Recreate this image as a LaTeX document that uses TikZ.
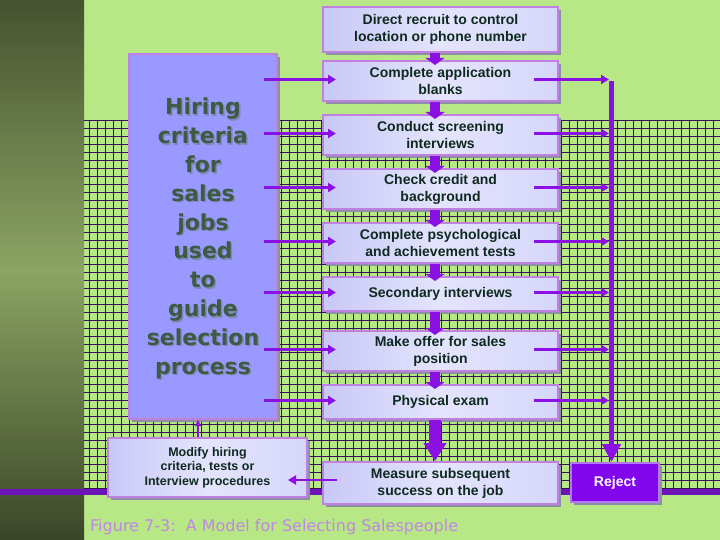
\documentclass[tikz,border=0pt]{standalone}
\usepackage{fontspec}
\setmainfont{Liberation Sans}
\newfontfamily\dvs{DejaVu Sans}
\usetikzlibrary{arrows.meta,calc,shadows}

\definecolor{bg}{HTML}{B8E886}
\definecolor{bandtop}{HTML}{465230}
\definecolor{bandmid}{HTML}{8BA462}
\definecolor{bandbot}{HTML}{3B4628}
\definecolor{gridc}{HTML}{36105C}
\definecolor{vio}{HTML}{8A10E4}
\definecolor{hbar}{HTML}{6C14B8}
\definecolor{bord}{HTML}{C080E0}
\definecolor{boxl}{HTML}{C8C8F6}
\definecolor{boxm}{HTML}{E4E4FE}
\definecolor{bigbox}{HTML}{9999FF}
\definecolor{txt}{HTML}{0E2A1E}
\definecolor{lefttxt}{HTML}{3D5A45}
\definecolor{leftshad}{HTML}{8088B4}
\definecolor{shad}{HTML}{8E8EA6}
\definecolor{capc}{HTML}{C286E6}
\definecolor{rejfill}{HTML}{8206EC}
\definecolor{rejbord}{HTML}{B478F2}

\tikzset{
  shadowed/.style={drop shadow={shadow xshift=3pt, shadow yshift=-3pt, fill=shad, opacity=1}},
  rbox/.style={shadowed, draw=bord, line width=2pt, left color=boxl, right color=boxl!50!boxm, middle color=boxm,
    minimum width=235pt, inner sep=2pt, align=center,
    font=\bfseries\fontsize{14}{17}\selectfont, text=txt},
  lbox/.style={shadowed, draw=bord, line width=2pt, fill=bigbox},
  rejbox/.style={shadowed, draw=rejbord, line width=2pt, fill=rejfill, text=white,
    font=\bfseries\fontsize{14}{17}\selectfont},
  lefttext/.style={font=\dvs\bfseries\fontsize{22}{28.8}\selectfont, align=center, inner sep=0pt},
  arr/.style={draw=vio, line width=2.2pt, -{Triangle[length=8pt,width=9pt]}},
  thinarr/.style={draw=vio, line width=1.5pt, -{Triangle[length=6pt,width=6pt]}},
  barr/.style={draw=vio, line width=10pt, -{Triangle[length=7pt,width=19pt]}},
  bigarr/.style={draw=vio, line width=12pt, -{Triangle[length=18pt,width=22pt]}},
  rejectbar/.style={draw=vio, line width=5pt, -{Triangle[length=18pt,width=18pt]}},
  gridline/.style={draw=gridc, line width=1.4pt}
}

\begin{document}
\begin{tikzpicture}[x=1pt,y=-1pt]
\useasboundingbox (0,0) rectangle (720,540);
% background
\fill[bg] (0,0) rectangle (720,540);
\shade[top color=bandtop, bottom color=bandbot, middle color=bandmid] (0,0) rectangle (84,540);
% grid
\foreach \gx in {89.3,97.3,...,720} \draw[gridline] (\gx,120) -- (\gx,489);
\foreach \gy in {120.7,128.7,...,489} \draw[gridline] (84,\gy) -- (720,\gy);
% horizontal bar
\fill[hbar] (0,489) rectangle (720,495);

% left box
\node[lbox, minimum width=148pt, minimum height=365pt] (left) at (203,236.5) {};
\node[lefttext, text=leftshad] (lshadow) at ($(left.center)+(1.5,3.5)$)
  {Hiring\\criteria\\for\\sales\\jobs\\used\\to\\guide\\selection\\process};
\node[lefttext, text=lefttxt] (ltext) at ($(left.center)+(0,2)$)
  {Hiring\\criteria\\for\\sales\\jobs\\used\\to\\guide\\selection\\process};

% right column
\node[rbox, minimum height=45pt] (b1) at (440.5,29.5) {Direct recruit to control\\location or phone number};
\node[rbox, minimum height=40pt] (b2) at (440.5,81) {Complete application\\blanks};
\node[rbox, minimum height=40pt] (b3) at (440.5,135) {Conduct screening\\interviews};
\node[rbox, minimum height=40pt] (b4) at (440.5,189) {Check credit and\\background};
\node[rbox, minimum height=40pt] (b5) at (440.5,243) {Complete psychological\\and achievement tests};
\node[rbox, minimum height=34pt] (b6) at (440.5,294) {Secondary interviews};
\node[rbox, minimum height=40pt] (b7) at (440.5,351) {Make offer for sales\\position};
\node[rbox, minimum height=34pt] (b8) at (440.5,402) {Physical exam};
\node[rbox, minimum height=42pt] (meas) at (440.5,483) {Measure subsequent\\success on the job};
\node[rbox, minimum width=199pt, minimum height=59pt, font=\bfseries\fontsize{12.5}{14.5}\selectfont]
  (modify) at (207.5,467.5) {Modify hiring\\criteria, tests or\\Interview procedures};
\node[rejbox, minimum width=88pt, minimum height=39pt] (reject) at (615,482.5) {Reject};

% down block arrows
\foreach \ua/\ub in {b1/b2,b2/b3,b3/b4,b4/b5,b5/b6,b6/b7,b7/b8}
  \draw[barr] ([xshift=-5.5pt]\ua.south) -- ([xshift=-5.5pt,yshift=-5pt]\ub.north);
\draw[bigarr] ([xshift=-5.5pt]b8.south) -- ([xshift=-5.5pt]meas.north);

% reject bar
\coordinate (bartop) at (611.5,81);
\draw[rejectbar] (bartop) -- (bartop |- reject.north);

% left and right arrows
\foreach \bx in {b2,b3,b4,b5,b6,b7,b8} {
  \draw[arr] ($(left.east |- \bx.west)+(-14,-1.5)$) -- ($(\bx.west)+(14,-1.5)$);
  \draw[arr] ($(\bx.east)+(-25,-1.5)$) -- ($(bartop |- \bx.east)+(-2.5,-1.5)$);
}

% feedback arrows
\draw[arr] ($(meas.west)+(15,-3)$) -- ($(modify.east |- meas.west)+(-20,-3)$);
\draw[thinarr] ($(modify.north)+(-9.5,0)$) -- ($(left.south)+(-5,0)$);

% caption
\node[anchor=base west, inner sep=0pt, font=\dvs\fontsize{16}{18}\selectfont, text=capc] (caption) at (90,531)
  {Figure 7-3:\ \ A Model for Selecting Salespeople};
\end{tikzpicture}
\end{document}
